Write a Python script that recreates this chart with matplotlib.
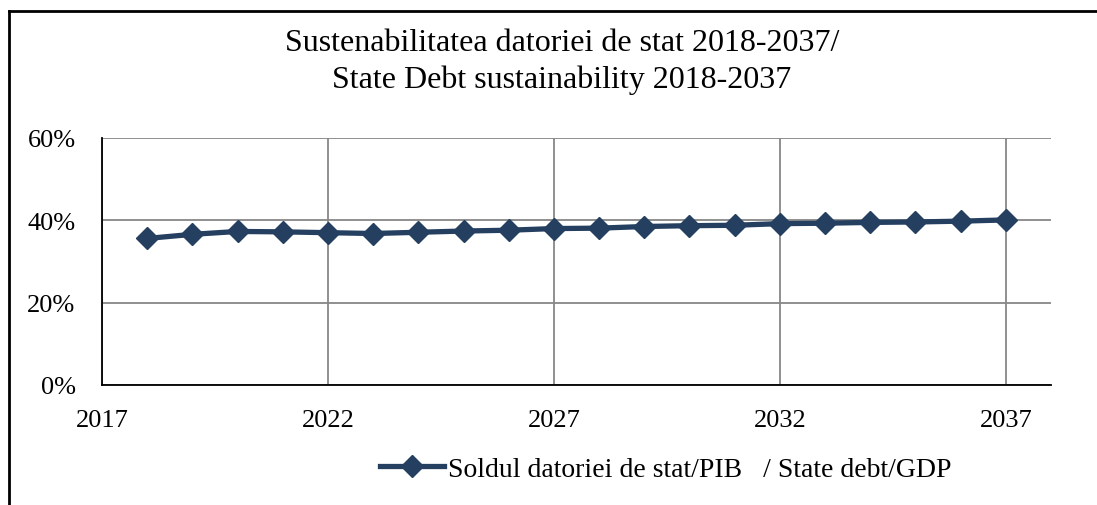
import matplotlib.pyplot as plt
from matplotlib.lines import Line2D
from matplotlib.ticker import FuncFormatter

plt.rcParams["font.family"] = ["Liberation Serif", "DejaVu Serif"]

years = list(range(2018, 2038))
debt_ratio = [35.6, 36.6, 37.3, 37.2, 37.0, 36.8, 37.1, 37.4, 37.6, 38.0,
              38.1, 38.5, 38.7, 38.8, 39.2, 39.3, 39.5, 39.6, 39.8, 40.1]
x_ticks = [2017, 2022, 2027, 2032, 2037]
y_ticks = [0, 20, 40, 60]

title = "Sustenabilitatea datoriei de stat 2018-2037/\nState Debt sustainability 2018-2037"
series_label = "Soldul datoriei de stat/PIB   / State debt/GDP"

W, H = 1097, 506
fig = plt.figure(figsize=(W / 100, H / 100), dpi=100)
ax = fig.add_axes([102 / W, 1 - 386 / H, (1051 - 102) / W, (386 - 139) / H])

ax.plot(years, debt_ratio, color="#253f60", lw=3.8, marker="D", markersize=11.5,
        markeredgewidth=1, markeredgecolor="#253f60", label=series_label, zorder=3)

ax.set_xlim(2017, 2038)
ax.set_ylim(0, 60)
ax.set_xticks(x_ticks)
ax.set_yticks(y_ticks)
ax.yaxis.set_major_formatter(FuncFormatter(lambda v, _: f"{v:.0f}%"))
ax.tick_params(length=0, labelsize=19)
ax.tick_params(axis="y", pad=19)
ax.tick_params(axis="x", pad=17)

ax.grid(True, color="#878787", lw=1.3)
ax.set_axisbelow(True)
for side in ["top", "right"]:
    ax.spines[side].set_visible(False)
for side in ["left", "bottom"]:
    ax.spines[side].set_color("black")
    ax.spines[side].set_linewidth(1.3)

fig.text(562 / W, 1 - 62 / H, title, ha="center", va="center", fontsize=23,
         linespacing=1.35)

fig.legend(loc="center", bbox_to_anchor=(666 / W, 1 - 470 / H), frameon=False,
           fontsize=20, handlelength=2.3, handletextpad=0.15)

# outer frame (top and left edges only, as in the reference crop)
fig.add_artist(Line2D([9 / W, 1], [1 - 12 / H, 1 - 12 / H], color="black", lw=2,
                      transform=fig.transFigure))
fig.add_artist(Line2D([9 / W, 9 / W], [0, 1 - 12 / H], color="black", lw=2,
                      transform=fig.transFigure))

fig.savefig("out.png", dpi=100)
